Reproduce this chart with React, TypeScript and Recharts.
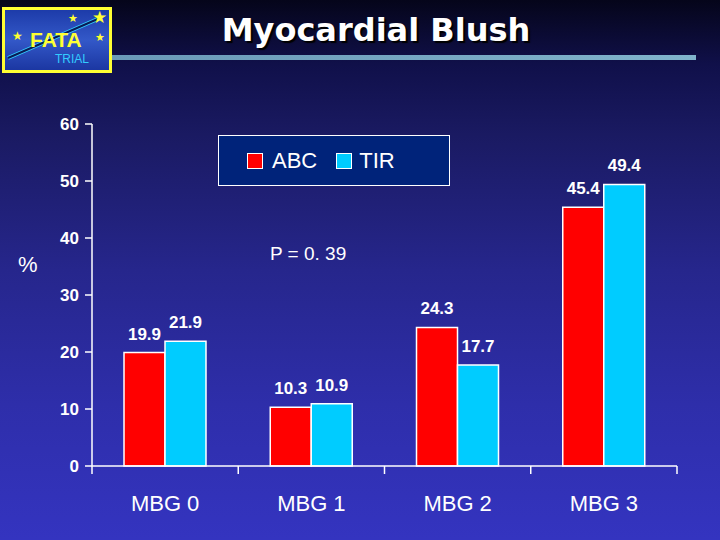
import { BarChart, Bar, XAxis, YAxis, LabelList } from 'recharts';

const categories = ['MBG 0', 'MBG 1', 'MBG 2', 'MBG 3'];
const abcValues = [19.9, 10.3, 24.3, 45.4];
const tirValues = [21.9, 10.9, 17.7, 49.4];
const yTicks = [0, 10, 20, 30, 40, 50, 60];

const data = categories.map((name, i) => ({ name, ABC: abcValues[i], TIR: tirValues[i] }));

const RED = '#ff0000';
const CYAN = '#00ccff';
const FONT = '"Liberation Sans", Arial, sans-serif';
const X_TICK_MARGIN = 29;

function LegendBox() {
  return (
    <div
      style={{
        position: 'absolute',
        left: 218,
        top: 135,
        width: 232,
        height: 51,
        background: '#00237a',
        border: '1.5px solid #ffffff',
        display: 'flex',
        alignItems: 'center',
        fontFamily: FONT,
        fontSize: 22,
        color: '#fff',
        boxSizing: 'border-box',
      }}
    >
      <span style={{ width: 14, height: 14, background: RED, border: '1.5px solid #fff', marginLeft: 28, marginRight: 9 }} />
      <span>ABC</span>
      <span style={{ width: 14, height: 14, background: CYAN, border: '1.5px solid #fff', marginLeft: 19, marginRight: 7 }} />
      <span>TIR</span>
    </div>
  );
}

function Logo() {
  return (
    <svg width={116} height={78} style={{ position: 'absolute', left: 0, top: 0 }}>
      <defs>
        <linearGradient id="logoBg" x1="0" y1="0" x2="0" y2="1">
          <stop offset="0%" stopColor="#1c3aa8" />
          <stop offset="50%" stopColor="#3358c8" />
          <stop offset="100%" stopColor="#1a35a0" />
        </linearGradient>
      </defs>
      <rect x={3.5} y={8.5} width={107} height={63} fill="url(#logoBg)" stroke="#ffff33" strokeWidth={3} />
      <line x1={8} y1={58} x2={100} y2={18} stroke="#33ccff" strokeWidth={4} />
      <line x1={8} y1={58} x2={100} y2={18} stroke="#0a1a55" strokeWidth={2} />
      <text x={30} y={47} fill="#ffff33" fontFamily={FONT} fontWeight="bold" fontSize={21}>FATA</text>
      <text x={55} y={63} fill="#33ccff" fontFamily={FONT} fontSize={12}>TRIAL</text>
      <text x={12} y={40} fill="#ffff33" fontSize={12}>★</text>
      <text x={68} y={22} fill="#ffff33" fontSize={11}>★</text>
      <text x={92} y={23} fill="#ffff33" fontSize={17}>★</text>
      <text x={95} y={41} fill="#ffff33" fontSize={11}>★</text>
    </svg>
  );
}

// category label plus tick marks on the band edges
function CategoryTick(props: any) {
  const { x, y, payload, index, visibleTicksCount } = props;
  const half = payload && payload.offset ? payload.offset : 73;
  const axisY = y - X_TICK_MARGIN;
  const last = index === (visibleTicksCount ?? 4) - 1;
  return (
    <g>
      <line x1={x - half} y1={axisY} x2={x - half} y2={axisY + 8} stroke="#fff" strokeWidth={1.5} />
      {last && <line x1={x + half} y1={axisY} x2={x + half} y2={axisY + 8} stroke="#fff" strokeWidth={1.5} />}
      <text x={x} y={y} dy="0.71em" textAnchor="middle" fill="#fff" fontSize={22} fontFamily={FONT}>
        {payload.value}
      </text>
    </g>
  );
}

export default function App() {
  return (
    <div
      style={{
        position: 'absolute',
        left: 0,
        top: 0,
        width: 720,
        height: 540,
        overflow: 'hidden',
        background: 'linear-gradient(to bottom, #05051a 0%, #10104a 12%, #1a1a62 25%, #26268c 50%, #2e2eaa 75%, #3434c0 100%)',
      }}
    >
      <Logo />
      <div style={{ position: 'absolute', left: 112, top: 55, width: 584, height: 5, background: 'linear-gradient(to right, #6a9ab8, #80b4cc)' }} />
      <div
        style={{
          position: 'absolute',
          left: 0,
          width: 752,
          top: 11,
          textAlign: 'center',
          fontFamily: '"DejaVu Sans", Verdana, sans-serif',
          fontWeight: 'bold',
          fontSize: 32,
          color: '#fff',
          textShadow: '2px 2px 1px #000',
        }}
      >
        Myocardial Blush
      </div>
      <div style={{ position: 'absolute', left: 18, top: 252, fontFamily: FONT, fontSize: 22, color: '#fff' }}>%</div>
      <div style={{ position: 'absolute', left: 270, top: 243, fontFamily: FONT, fontSize: 19, color: '#fff' }}>P = 0. 39</div>

      <BarChart
        width={720}
        height={540}
        data={data}
        margin={{ top: 124, right: 43, bottom: 0, left: 0 }}
        barGap={0}
        style={{ position: 'absolute', left: 0, top: 0 }}
      >
        <XAxis
          dataKey="name"
          height={74}
          axisLine={{ stroke: '#fff', strokeWidth: 1.5 }}
          tickLine={false}
          tickSize={0}
          tickMargin={X_TICK_MARGIN}
          interval={0}
          tick={<CategoryTick />}
        />
        <YAxis
          width={92}
          domain={[0, 60]}
          ticks={yTicks}
          interval={0}
          axisLine={{ stroke: '#fff', strokeWidth: 1.5 }}
          tickLine={{ stroke: '#fff', strokeWidth: 1.5 }}
          tickSize={7}
          tickMargin={6}
          tick={{ fill: '#fff', fontSize: 17, fontWeight: 'bold', fontFamily: FONT }}
        />
        <Bar dataKey="ABC" fill={RED} stroke="#fff" strokeWidth={1.5} barSize={41} isAnimationActive={false}>
          <LabelList dataKey="ABC" position="top" offset={13} fill="#fff" fontSize={17} fontWeight="bold" fontFamily={FONT} />
        </Bar>
        <Bar dataKey="TIR" fill={CYAN} stroke="#fff" strokeWidth={1.5} barSize={41} isAnimationActive={false}>
          <LabelList dataKey="TIR" position="top" offset={13} fill="#fff" fontSize={17} fontWeight="bold" fontFamily={FONT} />
        </Bar>
      </BarChart>
      <LegendBox />
    </div>
  );
}
